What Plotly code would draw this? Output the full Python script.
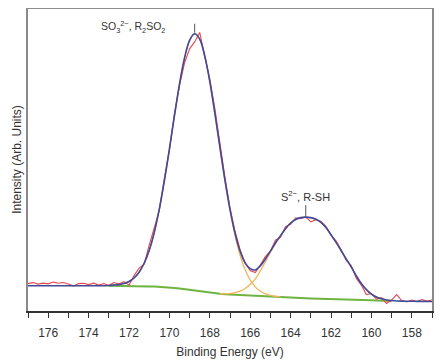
import plotly.graph_objects as go

# Binding-energy grid (eV) of the fitted curves and measured spectrum
be_fit = [177.0, 176.75, 176.5, 176.25, 176.0, 175.75, 175.5, 175.25, 175.0, 174.75,
          174.5, 174.25, 174.0, 173.75, 173.5, 173.25, 173.0, 172.75, 172.5, 172.25,
          172.0, 171.75, 171.5, 171.25, 171.0, 170.75, 170.5, 170.25, 170.0, 169.75,
          169.5, 169.25, 169.0, 168.75, 168.5, 168.25, 168.0, 167.75, 167.5, 167.25,
          167.0, 166.75, 166.5, 166.25, 166.0, 165.75, 165.5, 165.25, 165.0, 164.75,
          164.5, 164.25, 164.0, 163.75, 163.5, 163.25, 163.0, 162.75, 162.5, 162.25,
          162.0, 161.75, 161.5, 161.25, 161.0, 160.75, 160.5, 160.25, 160.0, 159.75,
          159.5, 159.25, 159.0, 158.75, 158.5, 158.25, 158.0, 157.75, 157.5, 157.25,
          157.0]

# Measured spectrum (red)
raw = [27.5, 28.5, 27.0, 28.0, 27.2, 29.0, 27.8, 28.6, 27.0, 25.0,
       27.5, 27.8, 26.5, 27.9, 26.0, 27.5, 25.5, 28.5, 27.2, 29.5,
       26.0, 35.5, 43.0, 47.0, 66.0, 84.0, 101.0, 133.0, 161.0, 198.0,
       226.0, 249.0, 263.0, 270.0, 279.5, 255.0, 233.0, 203.0, 168.0, 134.0,
       103.5, 80.0, 61.5, 48.0, 40.5, 38.5, 46.0, 54.5, 60.0, 71.0,
       74.0, 84.5, 87.0, 93.5, 92.5, 94.5, 89.5, 91.5, 90.0, 85.0,
       76.0, 70.5, 61.5, 51.0, 45.5, 33.0, 26.0, 16.5, 17.5, 12.0,
       13.5, 7.5, 11.0, 16.5, 10.5, 9.0, 11.0, 9.5, 11.5, 10.0,
       11.0]

# Fit envelope (blue)
envelope = [25.4, 25.4, 25.4, 25.4, 25.4, 25.4, 25.4, 25.4, 25.4, 25.4,
            25.4, 25.4, 25.4, 25.4, 25.4, 25.4, 25.6, 26.0, 26.5, 27.6,
            29.6, 33.1, 38.9, 47.9, 60.8, 78.8, 102.2, 130.5, 162.5, 195.9,
            227.6, 253.8, 271.5, 278.2, 272.7, 256.0, 230.2, 198.4, 164.3, 131.2,
            101.9, 77.9, 59.9, 48.3, 42.5, 41.2, 45.3, 52.2, 60.1, 68.2,
            75.6, 82.6, 88.3, 91.8, 93.7, 94.2, 93.7, 92.1, 89.0, 83.7,
            76.5, 68.8, 60.7, 52.2, 44.3, 35.4, 27.5, 21.4, 17.0, 14.0,
            12.2, 11.1, 10.5, 10.1, 9.9, 9.8, 9.8, 9.7, 9.7, 9.6,
            9.6]

# Shirley-type background (green), 173.0 -> 159.0 eV
background = [25.4, 25.4, 25.3, 25.3, 25.2, 25.1, 25.0, 24.9, 24.7, 24.5,
              24.3, 24.0, 23.6, 23.1, 22.5, 21.8, 21.0, 20.2, 19.4, 18.7,
              18.1, 17.6, 17.2, 16.8, 16.5, 16.2, 15.9, 15.6, 15.3, 15.0,
              14.7, 14.5, 14.2, 14.0, 13.8, 13.6, 13.4, 13.2, 13.0, 12.8,
              12.6, 12.5, 12.3, 12.1, 12.0, 11.8, 11.6, 11.5, 11.3, 11.1,
              11.0, 10.8, 10.7, 10.5, 10.4, 10.2, 10.1]
bg_start = 173.0

# Component 1 (SO3 2-, R2SO2) on background, 173.0 -> 164.5 eV
comp1 = [25.6, 26.0, 26.5, 27.6, 29.6, 33.1, 38.9, 47.9, 60.8, 78.8,
         102.2, 130.5, 162.5, 195.9, 227.6, 253.8, 271.5, 278.2, 272.7, 256.0,
         230.2, 198.4, 164.2, 130.8, 100.9, 75.7, 55.9, 41.3, 31.0, 24.2,
         19.8, 17.2, 15.6, 14.7, 14.1]
comp1_start = 173.0

# Component 2 (S2-, R-SH) on background, 167.5 -> 159.0 eV
comp2 = [17.3, 17.2, 17.5, 18.4, 19.9, 22.6, 26.8, 32.0, 40.2, 49.5,
         58.7, 67.5, 75.3, 82.6, 88.3, 91.8, 93.7, 94.2, 93.7, 92.1,
         89.0, 83.7, 76.5, 68.8, 60.7, 52.2, 44.3, 35.4, 27.5, 21.4,
         17.0, 14.0, 12.2, 11.1, 10.5]
comp2_start = 167.5

peak_labels = ["SO<sub>3</sub><sup>2\u2212</sup>, R<sub>2</sub>SO<sub>2</sub>",
               "S<sup>2\u2212</sup>, R-SH"]
peak_pos = [168.75, 163.25]


def seg(start, n):
    i = be_fit.index(start)
    return be_fit[i:i + n]


FONT = "Liberation Sans, Arial, sans-serif"
fig = go.Figure()
fig.add_trace(go.Scatter(x=seg(bg_start, len(background)), y=background, mode="lines",
                         line=dict(color="#6fb440", width=2), hoverinfo="skip"))
fig.add_trace(go.Scatter(x=seg(comp1_start, len(comp1)), y=comp1, mode="lines",
                         line=dict(color="#f3b45a", width=1.3, shape="spline"), hoverinfo="skip"))
fig.add_trace(go.Scatter(x=seg(comp2_start, len(comp2)), y=comp2, mode="lines",
                         line=dict(color="#f3b45a", width=1.3, shape="spline"), hoverinfo="skip"))
fig.add_trace(go.Scatter(x=be_fit, y=raw, mode="lines",
                         line=dict(color="#e8474c", width=1.1), hoverinfo="skip"))
fig.add_trace(go.Scatter(x=be_fit, y=envelope, mode="lines",
                         line=dict(color="#3f4a9a", width=1.6, shape="spline"), hoverinfo="skip"))

# leader lines from the labels down to the peak maxima
for k, pos in enumerate(peak_pos):
    ytop = envelope[be_fit.index(pos)]
    fig.add_shape(type="line", xref="x", yref="y", x0=pos, x1=pos,
                  y0=ytop + 1, y1=ytop + (10 if k == 0 else 12),
                  line=dict(color="#555", width=1))

# peak labels
fig.add_annotation(x=peak_pos[0], y=envelope[be_fit.index(peak_pos[0])], text=peak_labels[0],
                   showarrow=False, xanchor="right", yanchor="middle", xshift=-28, yshift=7,
                   font=dict(family=FONT, size=10.5, color="#333"))
fig.add_annotation(x=peak_pos[1], y=envelope[be_fit.index(peak_pos[1])], text=peak_labels[1],
                   showarrow=False, xanchor="center", yanchor="middle", yshift=21,
                   font=dict(family=FONT, size=11, color="#333"))

# top frame line
fig.add_shape(type="line", xref="paper", yref="paper", x0=0, x1=1, y0=1, y1=1,
              line=dict(color="#6a6a6a", width=1.5))

# the page body adds an 8px margin, so the figure is sized to fit inside the window
fig.update_layout(
    width=434, height=356,
    margin=dict(l=20, r=10, t=0, b=53),
    paper_bgcolor="white", plot_bgcolor="white",
    showlegend=False,
    font=dict(family=FONT, color="#333"),
)
fig.update_xaxes(
    range=[177, 157], showgrid=False, zeroline=False,
    showline=True, linecolor="#333", linewidth=1.5,
    ticks="outside", ticklen=5, tickwidth=1.2, tickcolor="#333",
    tick0=0, dtick=2, tickfont=dict(size=12, color="#333"),
    ticklabelstandoff=5,
    minor=dict(dtick=1, ticks="outside", ticklen=5, tickwidth=1.2, tickcolor="#333"),
    title=dict(text="Binding Energy (eV)", font=dict(size=12, color="#333"), standoff=8),
    automargin=False,
)
fig.update_yaxes(
    range=[0, 304], showgrid=False, zeroline=False, showticklabels=False, ticks="",
    showline=True, mirror=True, linecolor="#8a8a8a", linewidth=1.5,
    title=dict(text="Intensity (Arb. Units)", font=dict(size=12, color="#333"), standoff=2),
    automargin=False,
)

fig.write_html("out.html")
